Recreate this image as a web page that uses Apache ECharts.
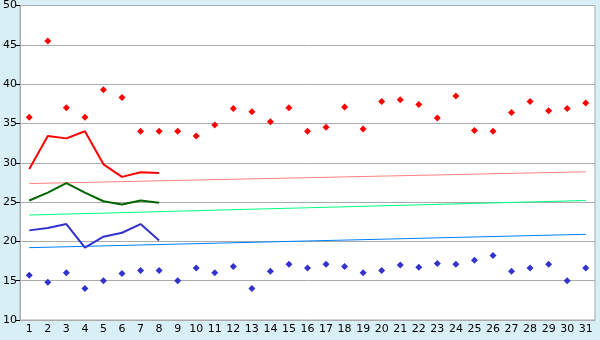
<!DOCTYPE html>
<html>
<head>
<meta charset="utf-8">
<script src="https://cdn.jsdelivr.net/npm/echarts@6/dist/echarts.min.js"></script>
<style>
html,body{margin:0;padding:0;background:#D9EFF6;}
#c{width:600px;height:340px;}
</style>
</head>
<body>
<div id="c"></div>
<script>
var days = ['1','2','3','4','5','6','7','8','9','10','11','12','13','14','15','16','17','18','19','20','21','22','23','24','25','26','27','28','29','30','31'];
var maxPoints = [35.8,45.5,37.0,35.8,39.3,38.3,34.0,34.0,34.0,33.4,34.8,36.9,36.5,35.2,37.0,34.0,34.5,37.1,34.3,37.8,38.0,37.4,35.7,38.5,34.1,34.0,36.4,37.8,36.6,36.9,37.6];
var minPoints = [15.7,14.8,16.0,14.0,15.0,15.9,16.3,16.3,15.0,16.6,16.0,16.8,14.0,16.2,17.1,16.6,17.1,16.8,16.0,16.3,17.0,16.7,17.2,17.1,17.6,18.2,16.2,16.6,17.1,15.0,16.6];
var maxLine = [29.2,33.4,33.1,34.0,29.8,28.2,28.8,28.7];
var meanLine = [25.2,26.2,27.4,26.2,25.1,24.7,25.2,24.9];
var minLine = [21.4,21.7,22.2,19.2,20.6,21.1,22.2,20.1];
var maxTrend = [27.35, 28.85];
var meanTrend = [23.35, 25.2];
var minTrend = [19.2, 20.9];
var yTicks = [10,15,20,25,30,35,40,45,50];

function trend(pair){
  var arr = days.map(function(){return '-';});
  arr[0] = pair[0]; arr[days.length-1] = pair[1];
  return arr;
}
function lineS(data, color, width){
  return {type:'line', data:data, symbol:'none', connectNulls:true, silent:true,
    lineStyle:{color:color, width:width}, itemStyle:{color:color}, animation:false};
}
function pts(data, color){
  return {type:'scatter', data:data, symbol:'diamond', symbolSize:7,
    itemStyle:{color:color, opacity:1}, animation:false};
}
var chart = echarts.init(document.getElementById('c'));
chart.setOption({
  backgroundColor:'#D9EFF6',
  animation:false,
  grid:{left:20, right:5, top:5, bottom:20, show:true, backgroundColor:'#ffffff', borderColor:'#aaaaaa', borderWidth:1},
  xAxis:{type:'category', data:days, boundaryGap:true,
    axisLine:{lineStyle:{color:'#aaaaaa'}},
    axisTick:{alignWithLabel:true, length:5, lineStyle:{color:'#000000'}},
    axisLabel:{color:'#000', fontFamily:'DejaVu Sans', fontSize:11, margin:4, interval:0},
    splitLine:{show:false}},
  yAxis:{type:'value', min:yTicks[0], max:yTicks[yTicks.length-1], interval:5,
    axisLine:{show:true, lineStyle:{color:'#aaaaaa'}},
    axisTick:{show:true, length:4, lineStyle:{color:'#000000'}},
    axisLabel:{color:'#000', fontFamily:'DejaVu Sans', fontSize:11, margin:3},
    splitLine:{lineStyle:{color:'#aaaaaa'}}},
  series:[
    lineS(trend(maxTrend), '#FF8080', 1),
    lineS(trend(meanTrend), '#00FF80', 1),
    lineS(trend(minTrend), '#0080FF', 1),
    lineS(maxLine, '#FF0000', 2),
    lineS(meanLine, '#006400', 2),
    lineS(minLine, '#3333CC', 2),
    pts(maxPoints, '#FF0000'),
    pts(minPoints, '#3333CC')
  ]
});
</script>
</body>
</html>
